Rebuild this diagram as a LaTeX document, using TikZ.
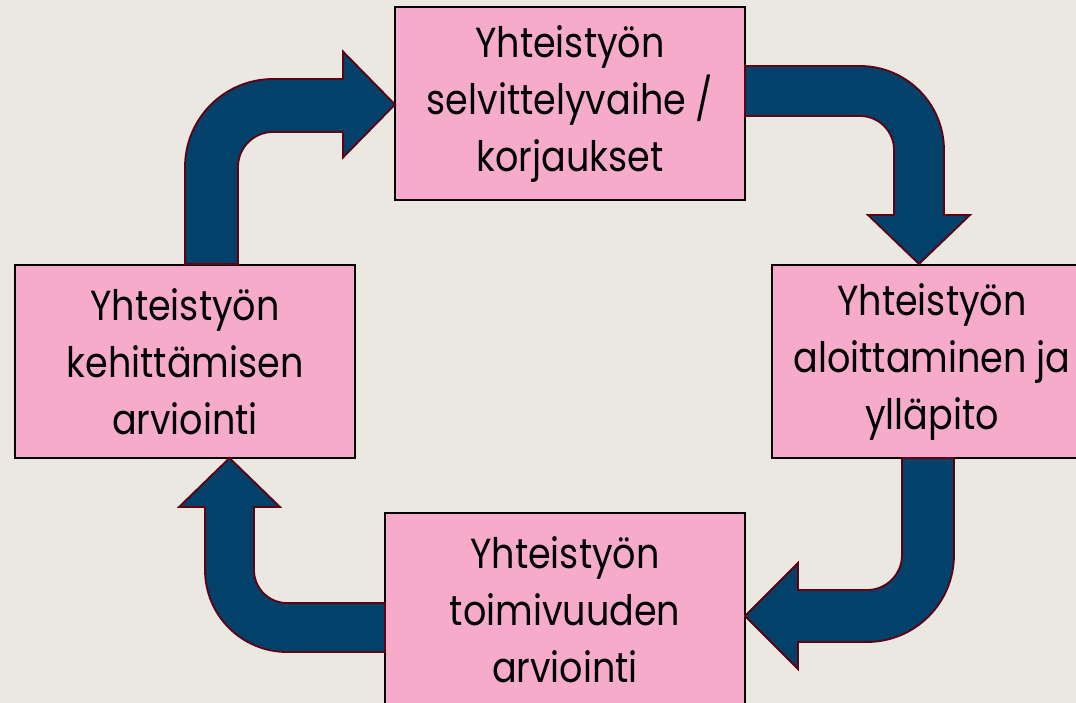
\documentclass[tikz,border=0pt]{standalone}
\usepackage{fontspec}
\setmainfont{Poppins}[FakeStretch=0.87]
\definecolor{bgcol}{RGB}{235,231,225}
\definecolor{boxpink}{RGB}{245,171,201}
\definecolor{arrowblue}{RGB}{2,65,105}
\definecolor{arrowrim}{RGB}{96,0,20}
\tikzset{
  procbox/.style={draw=black, line width=1.3pt, fill=boxpink, inner sep=0pt,
    align=center, font=\fontsize{42}{57}\selectfont},
  blockarrow/.style={fill=arrowblue, draw=arrowrim, line width=1.8pt, line join=miter}
}
\begin{document}
\begin{tikzpicture}[x=1pt,y=1pt]
\useasboundingbox (0,0) rectangle (1076,-703);
\fill[bgcol] (0,0) rectangle (1076,-703);
\begin{scope}
\clip (0,0) rectangle (1076,-703);
% boxes
\node[procbox, minimum width=350pt, minimum height=193pt] (ttop) at (570,-103.5)
  {Yhteistyön\\selvittelyvaihe /\\korjaukset};
\node[procbox, minimum width=320pt, minimum height=193pt] (tright) at (932,-361.5)
  {Yhteistyön\\aloittaminen ja\\ylläpito};
\node[procbox, minimum width=340pt, minimum height=193pt] (tleft) at (185,-361.5)
  {Yhteistyön\\kehittämisen\\arviointi};
\node[procbox, minimum width=360pt, minimum height=193pt] (tbottom) at (565,-609.5)
  {Yhteistyön\\toimivuuden\\arviointi};
% arrow: left -> top
\draw[blockarrow] (185,-264) -- (185,-167) arc(180:90:88pt) -- (343,-79) -- (343,-51.5)
  -- (395,-104.5) -- (343,-157.5) -- (343,-132) -- (273,-132) arc(90:180:35pt)
  -- (238,-264) -- cycle;
% arrow: top -> right
\draw[blockarrow] (745,-66) -- (860,-66) arc(90:0:84pt) -- (944,-215) -- (970,-215)
  -- (919,-264) -- (868,-215) -- (894,-215) -- (894,-150) arc(0:90:34pt)
  -- (745,-116) -- cycle;
% arrow: right -> bottom
\draw[blockarrow] (902,-458) -- (954,-458) -- (954,-555) arc(0:-90:87pt) -- (798,-642)
  -- (798,-669) -- (745,-616) -- (798,-563) -- (798,-590) -- (867,-590)
  arc(-90:0:35pt) -- cycle;
% arrow: bottom -> left
\draw[blockarrow] (385,-603) -- (287,-603) arc(-90:-180:33pt) -- (254,-507) -- (280,-507)
  -- (229.5,-458) -- (179,-507) -- (205,-507) -- (205,-570) arc(180:270:82pt)
  -- (385,-652) -- cycle;
\end{scope}
\end{tikzpicture}
\end{document}
